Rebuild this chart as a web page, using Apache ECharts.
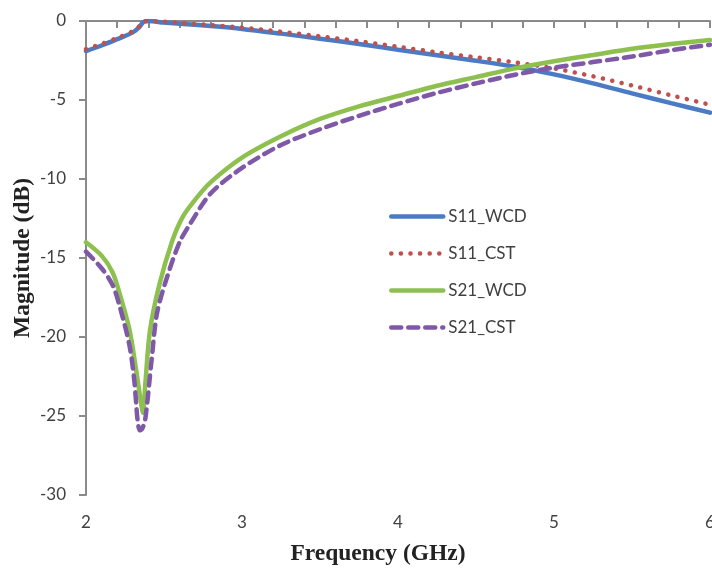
<!DOCTYPE html>
<html>
<head>
<meta charset="utf-8">
<script src="https://cdn.jsdelivr.net/npm/echarts@6/dist/echarts.min.js"></script>
<style>html,body{margin:0;padding:0;background:#fff;}#c{width:712px;height:570px;}</style>
</head>
<body>
<div id="c"></div>
<script>
var seriesNames = ['S11_WCD', 'S11_CST', 'S21_WCD', 'S21_CST'];

var s11WcdFreq = [2.0, 2.1, 2.2, 2.3, 2.34, 2.37, 2.4, 2.5, 2.6, 2.8, 3.0, 3.25, 3.5, 3.75, 4.0, 4.25, 4.5, 4.75, 5.0, 5.25, 5.5, 5.75, 6.0];
var s11WcdVal  = [-1.9, -1.55, -1.15, -0.72, -0.4, -0.05, 0, -0.1, -0.17, -0.32, -0.5, -0.8, -1.12, -1.45, -1.82, -2.17, -2.52, -2.9, -3.38, -3.95, -4.58, -5.2, -5.8];

var s11CstFreq = [2.0, 2.1, 2.2, 2.3, 2.34, 2.37, 2.4, 2.5, 2.6, 2.8, 3.0, 3.25, 3.5, 3.75, 4.0, 4.25, 4.5, 4.75, 5.0, 5.25, 5.5, 5.75, 6.0];
var s11CstVal  = [-1.78, -1.45, -1.07, -0.65, -0.35, -0.03, 0, -0.05, -0.12, -0.26, -0.42, -0.68, -0.97, -1.28, -1.63, -1.98, -2.3, -2.62, -3.0, -3.5, -4.08, -4.7, -5.3];

var s21WcdFreq = [2.0, 2.1, 2.17, 2.22, 2.28, 2.32, 2.35, 2.365, 2.38, 2.41, 2.47, 2.55, 2.62, 2.7, 2.8, 3.0, 3.25, 3.5, 3.75, 4.0, 4.25, 4.5, 4.75, 5.0, 5.25, 5.5, 5.75, 6.0];
var s21WcdVal  = [-14.0, -14.85, -15.9, -17.4, -19.6, -22.0, -24.0, -24.8, -23.0, -19.6, -16.7, -14.0, -12.4, -11.3, -10.2, -8.65, -7.3, -6.2, -5.4, -4.75, -4.1, -3.55, -3.0, -2.55, -2.15, -1.75, -1.45, -1.2];

var s21CstFreq = [2.0, 2.1, 2.17, 2.22, 2.28, 2.31, 2.33, 2.345, 2.36, 2.38, 2.42, 2.455, 2.52, 2.6, 2.67, 2.8, 3.0, 3.25, 3.5, 3.75, 4.0, 4.25, 4.5, 4.75, 5.0, 5.25, 5.5, 5.75, 6.0];
var s21CstVal  = [-14.6, -15.65, -16.7, -18.2, -20.6, -22.8, -25.2, -25.9, -25.8, -25.2, -21.5, -18.5, -16.2, -14.0, -12.8, -10.9, -9.3, -7.85, -6.85, -6.0, -5.25, -4.55, -3.95, -3.4, -2.95, -2.6, -2.25, -1.85, -1.5];

function pairs(f, v) { return f.map(function (x, i) { return [x, v[i]]; }); }

var axisColor = '#8a8a8a';
var tickFont = 'Lato, "Noto Sans", sans-serif';
var titleFont = '"Liberation Serif", "DejaVu Serif", serif';

var chart = echarts.init(document.getElementById('c'), null, { renderer: 'canvas' });
chart.setOption({
  animation: false,
  backgroundColor: '#ffffff',
  grid: { left: 86, right: 2, top: 21, bottom: 75, containLabel: false, outerBoundsMode: 'none' },
  legend: {
    orient: 'vertical',
    left: 384,
    top: 203,
    itemWidth: 52,
    itemHeight: 14,
    itemGap: 20,
    itemStyle: { opacity: 0 },
    lineStyle: { width: 4.5 },
    textStyle: { fontFamily: tickFont, fontSize: 17, color: '#404040' },
    data: seriesNames
  },
  xAxis: {
    type: 'value',
    min: 2, max: 6, interval: 1,
    name: 'Frequency (GHz)',
    nameLocation: 'middle',
    nameGap: 47,
    nameMoveOverlap: false,
    nameTextStyle: { fontFamily: titleFont, fontWeight: 'bold', fontSize: 23.5, color: '#222', padding: [0, 40, 0, 0] },
    axisLine: { show: true, lineStyle: { color: axisColor, width: 2 } },
    axisTick: { show: true, length: 7, lineStyle: { color: axisColor, width: 2 } },
    minorTick: { show: true, splitNumber: 5, length: 7, lineStyle: { color: axisColor, width: 2 } },
    axisLabel: { margin: 19, fontFamily: tickFont, fontSize: 17, color: '#404040' },
    splitLine: { show: false }
  },
  yAxis: {
    type: 'value',
    min: -30, max: 0, interval: 5,
    name: 'Magnitude (dB)',
    nameLocation: 'middle',
    nameGap: 51,
    nameMoveOverlap: false,
    nameTextStyle: { fontFamily: titleFont, fontWeight: 'bold', fontSize: 23.5, color: '#222' },
    axisLine: { show: true, lineStyle: { color: axisColor, width: 2 } },
    axisTick: { show: true, length: 7, lineStyle: { color: axisColor, width: 2 } },
    axisLabel: { margin: 20, fontFamily: tickFont, fontSize: 17, color: '#404040' },
    splitLine: { show: false }
  },
  series: [
    {
      name: seriesNames[0], type: 'line', data: pairs(s11WcdFreq, s11WcdVal),
      showSymbol: false, symbol: 'none', smooth: 0.3,
      lineStyle: { color: '#4a7bc4', width: 4.5, cap: 'round' }, itemStyle: { color: '#4a7bc4' }
    },
    {
      name: seriesNames[1], type: 'line', data: pairs(s11CstFreq, s11CstVal),
      showSymbol: false, symbol: 'none', smooth: 0.3,
      lineStyle: { color: '#c0504d', width: 4.5, type: [0.1, 9.5], cap: 'round' }, itemStyle: { color: '#c0504d' }
    },
    {
      name: seriesNames[2], type: 'line', data: pairs(s21WcdFreq, s21WcdVal),
      showSymbol: false, symbol: 'none', smooth: 0.3,
      lineStyle: { color: '#8dc04f', width: 4.5, cap: 'round' }, itemStyle: { color: '#8dc04f' }
    },
    {
      name: seriesNames[3], type: 'line', data: pairs(s21CstFreq, s21CstVal),
      showSymbol: false, symbol: 'none', smooth: 0.3,
      lineStyle: { color: '#7f58a8', width: 4.5, type: [10, 7], cap: 'round' }, itemStyle: { color: '#7f58a8' }
    }
  ]
});
</script>
</body>
</html>
